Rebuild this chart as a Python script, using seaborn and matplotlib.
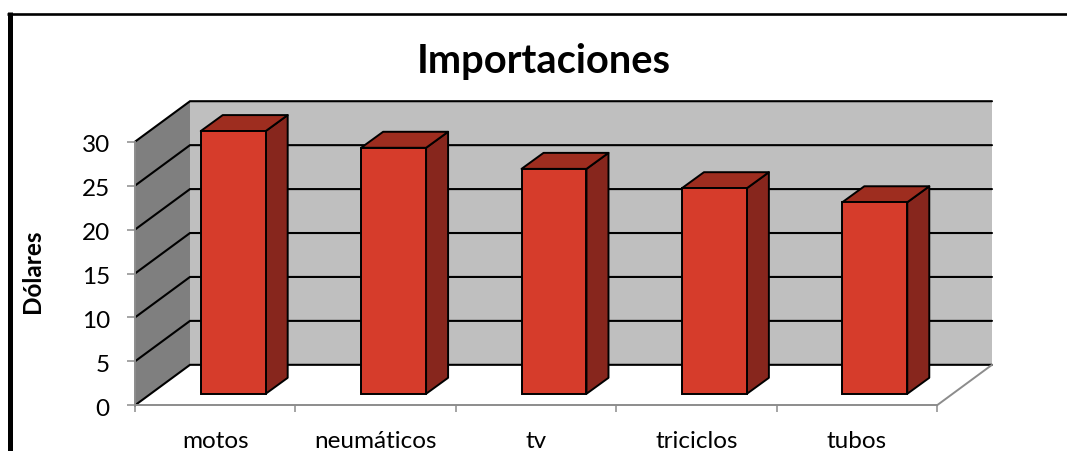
import matplotlib
matplotlib.use("Agg")
import matplotlib.pyplot as plt
import matplotlib.transforms as mtransforms
from matplotlib.lines import Line2D
from matplotlib.patches import Polygon
import pandas as pd
import seaborn as sns

## Data
categories = ["motos", "neumáticos", "tv", "triciclos", "tubos"]
values = [29.9, 28.0, 25.6, 23.4, 21.8]
y_ticks = [0, 5, 10, 15, 20, 25, 30]

## Colours
FRONT = "#d63c2b"
SIDE = "#87261d"
TOP = "#9e2d1f"
BACK_WALL = "#bfbfbf"
LEFT_WALL = "#7f7f7f"
AXIS_GREY = "#8c8c8c"

sns.set_theme(style="white")
plt.rcParams["font.family"] = ["Lato", "DejaVu Sans"]

W, H = 1067, 452
fig = plt.figure(figsize=(W / 100, H / 100), dpi=100, facecolor="white")
ax = fig.add_axes([135 / W, 1 - 406.3 / H, 802 / W, 263.6 / H])

df = pd.DataFrame({"item": categories, "value": values})
sns.barplot(data=df, x="item", y="value", color=FRONT, saturation=1, width=0.405,
            edgecolor="black", linewidth=1.4, ax=ax, zorder=4, clip_on=False)

x_min, x_max = -0.5, len(categories) - 0.5
ax.set_xlim(x_min, x_max)
ax.set_ylim(0, 30)
ax.patch.set_alpha(0)

# Fake 3D depth, in data units (one category = 160.4 px, one y unit = 8.79 px)
wall_dx, wall_dy = 55 / 160.4, 40.5 / 8.79
bar_dx, bar_dy = 18 / 160.4, 11.5 / 8.79
box_dx, box_dy = 22 / 160.4, 16 / 8.79

# Walls
ax.add_patch(Polygon([(x_min + wall_dx, wall_dy), (x_max + wall_dx, wall_dy),
                      (x_max + wall_dx, 30 + wall_dy), (x_min + wall_dx, 30 + wall_dy)],
                     facecolor=BACK_WALL, edgecolor="none", zorder=1, clip_on=False))
ax.add_patch(Polygon([(x_min, 0), (x_min + wall_dx, wall_dy),
                      (x_min + wall_dx, 30 + wall_dy), (x_min, 30)],
                     facecolor=LEFT_WALL, edgecolor="none", zorder=1, clip_on=False))

# Gridlines run along the left wall and then the back wall
for tick in y_ticks:
    ax.plot([x_min, x_min + wall_dx, x_max + wall_dx], [tick, tick + wall_dy, tick + wall_dy],
            color="black", lw=1.5, zorder=2, clip_on=False, solid_joinstyle="miter")

# Floor edge on the right
ax.plot([x_max, x_max + wall_dx], [0, wall_dy], color=AXIS_GREY, lw=1.4, zorder=2, clip_on=False)

# Bars are pushed back into the box, side and top faces added by hand
bar_shift = mtransforms.Affine2D().translate(bar_dx, bar_dy) + ax.transData
for bar in [p for p in ax.patches if p.get_zorder() == 4]:
    x0, w, h = bar.get_x(), bar.get_width(), bar.get_height()
    x1 = x0 + w
    bar.set_transform(bar_shift)
    side = Polygon([(x1, 0), (x1 + box_dx, box_dy), (x1 + box_dx, h + box_dy), (x1, h)],
                   facecolor=SIDE, edgecolor="black", lw=1.4, zorder=3, clip_on=False,
                   joinstyle="round", transform=bar_shift)
    top = Polygon([(x0, h), (x1, h), (x1 + box_dx, h + box_dy), (x0 + box_dx, h + box_dy)],
                  facecolor=TOP, edgecolor="black", lw=1.4, zorder=3, clip_on=False,
                  joinstyle="round", transform=bar_shift)
    ax.add_patch(side)
    ax.add_patch(top)

# Axes
for spine in ["top", "right"]:
    ax.spines[spine].set_visible(False)
for spine in ["left", "bottom"]:
    ax.spines[spine].set_color(AXIS_GREY)
    ax.spines[spine].set_linewidth(1.4)
    ax.spines[spine].set_zorder(5)

ax.set_xlabel("")
ax.set_ylabel("")
ax.set_yticks(y_ticks)
ax.set_xticks(range(len(categories)))
ax.set_xticklabels(categories)
ax.set_xticks([i - 0.5 for i in range(len(categories) + 1)], minor=True)
ax.tick_params(axis="y", left=True, length=6.1, width=1.1, color=AXIS_GREY, pad=12,
               labelsize=17.5, labelcolor="black")
ax.tick_params(axis="x", which="major", bottom=False, pad=11.5, labelsize=17.5, labelcolor="black")
ax.tick_params(axis="x", which="minor", bottom=True, length=5, width=1.1, color=AXIS_GREY)
y_nudge = mtransforms.ScaledTranslation(0, -1 / 100, fig.dpi_scale_trans)
for label in ax.get_yticklabels():
    label.set_transform(label.get_transform() + y_nudge)

fig.text(544 / W, 1 - 62 / H, "Importaciones", ha="center", va="center",
         fontsize=28.7, fontweight="bold", color="black")
fig.text(32 / W, 1 - 271 / H, "Dólares", ha="center", va="center", rotation=90,
         fontsize=17.5, fontweight="bold", color="black")

# Cropped chart frame: only left and top edges show
fig.add_artist(Line2D([9.8 / W, 9.8 / W], [0, 1 - 13.3 / H], color="black", lw=3.6,
                      solid_capstyle="butt"))
fig.add_artist(Line2D([7.3 / W, 1], [1 - 14.5 / H, 1 - 14.5 / H], color="black", lw=1.9,
                      solid_capstyle="butt"))

fig.savefig("out.png", dpi=100, facecolor="white")
